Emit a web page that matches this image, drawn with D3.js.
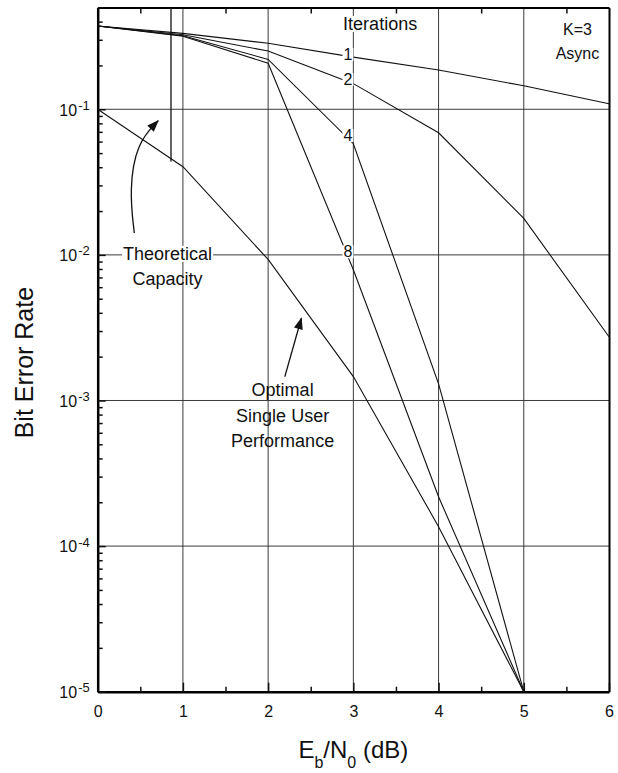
<!DOCTYPE html>
<html>
<head>
<meta charset="utf-8">
<script src="https://cdnjs.cloudflare.com/ajax/libs/d3/7.8.5/d3.min.js"></script>
<style>
body { margin:0; background:#fff; }
svg text { font-family: "Liberation Sans", Arial, Helvetica, sans-serif; fill:#111; }
</style>
</head>
<body>
<svg id="chart" width="618" height="773"></svg>
<script>
// Eb/N0 in dB
var ebn0 = [0, 1, 2, 3, 4, 5, 6];

// bit error rate, one list per curve
var iter1 = [0.373, 0.332, 0.284, 0.228, 0.186, 0.145, 0.109];
var iter2 = [0.373, 0.325, 0.251, 0.150, 0.069, 0.0178, 0.00274];
var iter4 = [0.373, 0.320, 0.220, 0.058, 0.0013, 0.00001];
var iter8 = [0.373, 0.317, 0.207, 0.0079, 0.000218, 0.00001];
var optimal = [0.1, 0.0403, 0.0093, 0.00146, 0.000136, 0.00001];

var iterLabels = ["1", "2", "4", "8"];

// theoretical capacity limit
var capacityX = 0.86;
var capacityBer = [0.5, 0.0437];

var xTicks = [0, 1, 2, 3, 4, 5, 6];
var xMinor = [0.5, 1.5, 2.5, 3.5, 4.5, 5.5];
var yDecades = [1e-5, 1e-4, 1e-3, 1e-2, 1e-1];
var yExponents = ["-5", "-4", "-3", "-2", "-1"];

var width = 618,
    height = 773,
    margins = {top: 7.5, right: 9, bottom: 81.3, left: 97.7};

var svg = d3.select("#chart");

var xScale = d3.scaleLinear().domain([0, 6]).range([margins.left, width - margins.right]);
var yScale = d3.scaleLog().domain([1e-5, 0.5]).range([height - margins.bottom, margins.top]);

var x0 = xScale(0), x1 = xScale(6), yb = yScale(1e-5), yt = yScale(0.5);

// minor ticks on the log axis
var yMinor = [];
yDecades.forEach(function(d) {
    for (var k = 2; k <= 9; k++) {
        if (d * k <= 0.5) yMinor.push(d * k);
    }
});

// grid
svg.append("g").selectAll("line")
    .data(xTicks.slice(1, 6))
    .join("line")
    .attr("x1", d => xScale(d)).attr("x2", d => xScale(d))
    .attr("y1", yt).attr("y2", yb)
    .attr("stroke", "#3a3a3a").attr("stroke-width", 1);

svg.append("g").selectAll("line")
    .data(yDecades.slice(1))
    .join("line")
    .attr("x1", x0).attr("x2", x1)
    .attr("y1", d => yScale(d)).attr("y2", d => yScale(d))
    .attr("stroke", "#3a3a3a").attr("stroke-width", 1);

// axes
svg.append("g").attr("class", "xAxis")
    .attr("transform", "translate(0," + yb + ")")
    .call(d3.axisBottom(xScale).tickValues(xTicks).tickFormat(d3.format("d"))
        .tickSize(-9).tickSizeOuter(0).tickPadding(14))
    .call(g => g.select(".domain").attr("stroke-width", 2.5));

svg.append("g")
    .attr("transform", "translate(0," + yb + ")")
    .call(d3.axisBottom(xScale).tickValues(xMinor).tickSize(-5).tickSizeOuter(0).tickFormat(""))
    .call(g => g.select(".domain").remove());

svg.append("g")
    .attr("transform", "translate(0," + yt + ")")
    .call(d3.axisTop(xScale).tickValues(xMinor).tickSize(-6).tickSizeOuter(0).tickFormat(""))
    .call(g => g.select(".domain").attr("stroke-width", 2));

svg.append("g")
    .attr("transform", "translate(" + x1 + ",0)")
    .call(d3.axisRight(yScale).tickValues([]).tickSizeOuter(0))
    .call(g => g.select(".domain").attr("stroke-width", 2));

svg.append("g").attr("class", "yAxis")
    .attr("transform", "translate(" + x0 + ",0)")
    .call(d3.axisLeft(yScale).tickValues(yDecades).tickSize(-8).tickSizeOuter(0).tickPadding(8))
    .call(g => g.select(".domain").attr("stroke-width", 2.5));

svg.append("g")
    .attr("transform", "translate(" + x0 + ",0)")
    .call(d3.axisLeft(yScale).tickValues(yMinor).tickSize(-5).tickSizeOuter(0).tickFormat(""))
    .call(g => g.select(".domain").remove());

svg.selectAll(".xAxis .tick text")
    .attr("font-size", 16)
    .style("fill", "#111");

svg.selectAll(".yAxis .tick text")
    .attr("font-size", 16)
    .attr("dy", "0.36em")
    .style("fill", "#111")
    .each(function(d, i) {
        var t = d3.select(this);
        t.text(null);
        t.append("tspan").text("10");
        t.append("tspan").attr("dx", 1).attr("dy", "-0.45em").attr("font-size", 13).text(yExponents[i]);
    });

svg.selectAll(".tick line").attr("stroke", "#111").attr("stroke-width", 1.5);

// curves
var line = d3.line()
    .x((d, i) => xScale(ebn0[i]))
    .y(d => yScale(d));

var curves = [iter1, iter2, iter4, iter8, optimal];

svg.append("g").selectAll("path")
    .data(curves)
    .join("path")
    .attr("fill", "none")
    .attr("stroke", "#111")
    .attr("stroke-width", 1.1)
    .attr("d", line);

svg.append("line")
    .attr("x1", xScale(capacityX)).attr("x2", xScale(capacityX))
    .attr("y1", yScale(capacityBer[0])).attr("y2", yScale(capacityBer[1]))
    .attr("stroke", "#111").attr("stroke-width", 1.3);

// text with a white box behind it, so lines stop at the words
function boxedText(g, x, y, str, size, anchor) {
    var grp = g.append("g");
    var rect = grp.append("rect").attr("fill", "#fff");
    var t = grp.append("text")
        .attr("x", x).attr("y", y)
        .attr("font-size", size)
        .attr("text-anchor", anchor || "middle")
        .text(str);
    var bb = t.node().getBBox();
    rect.attr("x", bb.x - 1).attr("y", bb.y + 2)
        .attr("width", bb.width + 2).attr("height", bb.height - 4);
    return t;
}

var notes = svg.append("g");

// iteration labels sit on their curves just left of 3 dB
var labelX = 2.92;
[iter1, iter2, iter4, iter8].forEach(function(c, i) {
    var lv = Math.log10(c[2]) + (Math.log10(c[3]) - Math.log10(c[2])) * (labelX - 2);
    boxedText(notes, xScale(3) - 1, yScale(Math.pow(10, lv)) + 4, iterLabels[i], 16, "end");
});

boxedText(notes, xScale(2.88), yScale(0.5) + 22.5, "Iterations", 18, "start");
boxedText(notes, xScale(5.63), yScale(0.5) + 27.5, "K=3", 16);
boxedText(notes, xScale(5.63), yScale(0.5) + 51, "Async", 16);

boxedText(notes, xScale(0.82), yScale(0.01) + 5, "Theoretical", 18);
notes.append("text").attr("x", xScale(0.82)).attr("y", yScale(0.01) + 30)
    .attr("font-size", 18).attr("text-anchor", "middle").text("Capacity");

var optLines = ["Optimal", "Single User", "Performance"];
notes.selectAll(".opt")
    .data(optLines)
    .join("text")
    .attr("class", "opt")
    .attr("x", xScale(2.17))
    .attr("y", (d, i) => yScale(0.001) - 4 + i * 25.5)
    .attr("font-size", 18)
    .attr("text-anchor", "middle")
    .text(d => d);

// arrows
svg.append("defs").append("marker")
    .attr("id", "head")
    .attr("markerUnits", "userSpaceOnUse")
    .attr("viewBox", "0 -5 12 10")
    .attr("refX", 11).attr("refY", 0)
    .attr("markerWidth", 14).attr("markerHeight", 10)
    .attr("orient", "auto")
    .append("path")
    .attr("d", "M0,-4.5L12,0L0,4.5Z")
    .attr("fill", "#111");

var capArrow = [[0.43, 0.0141], [0.37, 0.028], [0.46, 0.059], [0.71, 0.0835]];
var optArrow = [[2.196, 0.00146], [2.39, 0.00367]];

var arrowLine = d3.line()
    .x(d => xScale(d[0]))
    .y(d => yScale(d[1]))
    .curve(d3.curveBasis);

svg.append("path")
    .attr("d", arrowLine(capArrow))
    .attr("fill", "none").attr("stroke", "#111").attr("stroke-width", 1.3)
    .attr("marker-end", "url(#head)");

svg.append("path")
    .attr("d", arrowLine(optArrow))
    .attr("fill", "none").attr("stroke", "#111").attr("stroke-width", 1.3)
    .attr("marker-end", "url(#head)");

// axis titles
svg.append("text")
    .attr("transform", "translate(33," + ((yt + yb) / 2 + 13) + ") rotate(-90)")
    .attr("text-anchor", "middle")
    .attr("font-size", 25)
    .text("Bit Error Rate");

var xt = svg.append("text")
    .attr("x", (x0 + x1) / 2)
    .attr("y", 758)
    .attr("text-anchor", "middle")
    .attr("font-size", 24);
xt.append("tspan").text("E");
xt.append("tspan").attr("font-size", 16).attr("dy", 10).text("b");
xt.append("tspan").attr("dy", -10).text("/N");
xt.append("tspan").attr("font-size", 16).attr("dy", 10).text("0");
xt.append("tspan").attr("dy", -10).text(" (dB)");
</script>
</body>
</html>
